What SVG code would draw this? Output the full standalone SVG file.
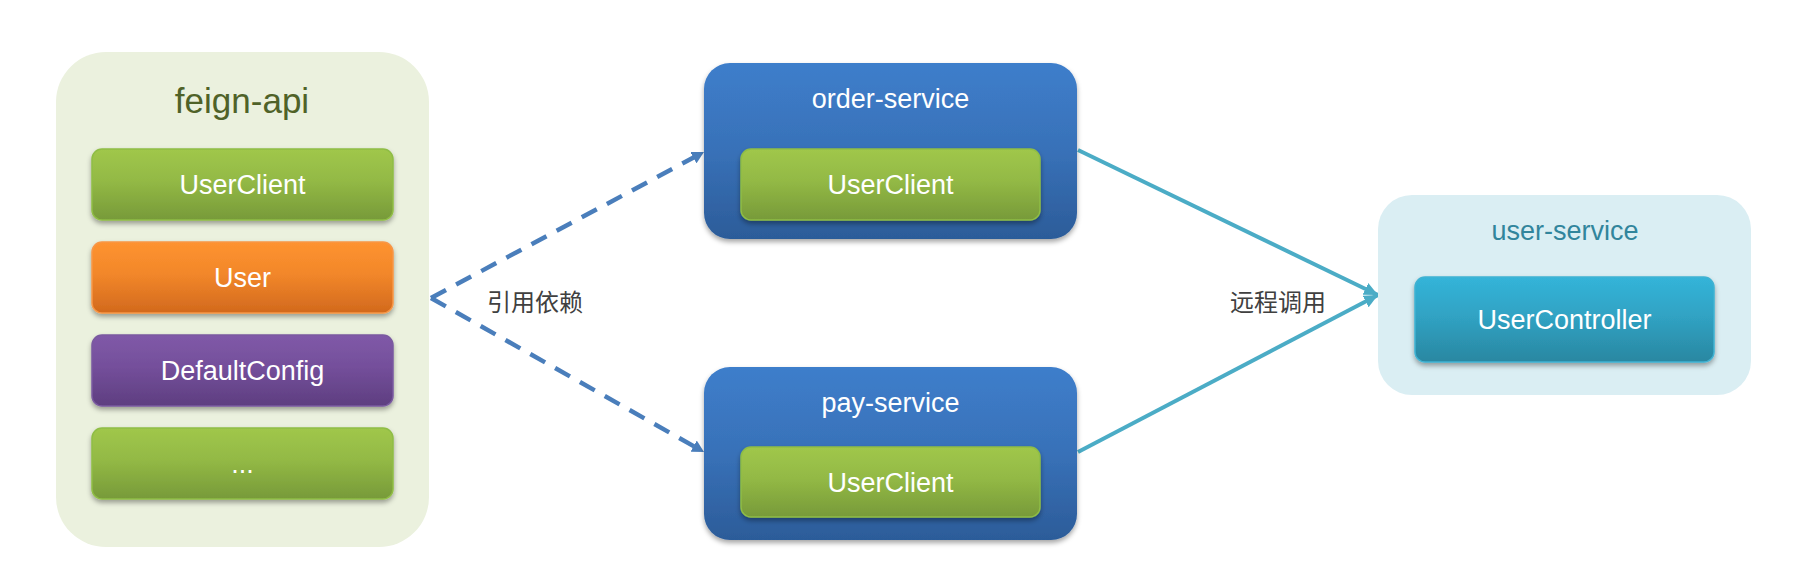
<svg xmlns="http://www.w3.org/2000/svg" width="1808" height="577" viewBox="0 0 1808 577">
  <style>
    .t { font-family: "Liberation Sans", Arial, sans-serif; font-size: 27px; fill: #ffffff; text-anchor: middle; }
    .cn { font-family: "Noto Sans CJK SC", "Noto Sans", sans-serif; font-size: 24px; fill: #404040; }
    .inner { filter: url(#sh); }
    .dash { fill: none; stroke: #4a7ebb; stroke-width: 4.5; stroke-dasharray: 17 11.5; marker-end: url(#aDash); }
  </style>
  <defs>
    <linearGradient id="gGreen" x1="0" y1="0" x2="0" y2="1">
      <stop offset="0" stop-color="#a0c74b"/>
      <stop offset="0.45" stop-color="#93b945"/>
      <stop offset="1" stop-color="#779a39"/>
    </linearGradient>
    <linearGradient id="gOrange" x1="0" y1="0" x2="0" y2="1">
      <stop offset="0" stop-color="#fe9330"/>
      <stop offset="0.45" stop-color="#f2872a"/>
      <stop offset="1" stop-color="#d2691d"/>
    </linearGradient>
    <linearGradient id="gPurple" x1="0" y1="0" x2="0" y2="1">
      <stop offset="0" stop-color="#8059a8"/>
      <stop offset="0.45" stop-color="#744f9b"/>
      <stop offset="1" stop-color="#5e3e80"/>
    </linearGradient>
    <linearGradient id="gBlue" x1="0" y1="0" x2="0" y2="1">
      <stop offset="0" stop-color="#3e7ecb"/>
      <stop offset="0.5" stop-color="#3871b8"/>
      <stop offset="1" stop-color="#2c5c99"/>
    </linearGradient>
    <linearGradient id="gTeal" x1="0" y1="0" x2="0" y2="1">
      <stop offset="0" stop-color="#34b4d9"/>
      <stop offset="0.45" stop-color="#30a3c4"/>
      <stop offset="1" stop-color="#2a87a1"/>
    </linearGradient>
    <filter id="sh" x="-10%" y="-20%" width="120%" height="150%">
      <feDropShadow dx="0" dy="3" stdDeviation="2.5" flood-color="#000" flood-opacity="0.35"/>
    </filter>
    <marker id="aDash" markerUnits="userSpaceOnUse" markerWidth="12" markerHeight="13" refX="6" refY="6.5" orient="auto" viewBox="0 0 12 13">
      <path d="M0,0 L12,6.5 L0,13 z" fill="#4a7ebb"/>
    </marker>
    <marker id="aTeal" markerUnits="userSpaceOnUse" markerWidth="14" markerHeight="13" refX="14" refY="6.5" orient="auto" viewBox="0 0 14 13">
      <path d="M0,0 L14,6.5 L0,13 z" fill="#4bacc6"/>
    </marker>
  </defs>

  <rect width="1808" height="577" fill="#ffffff"/>

  <g id="feign-api">
    <rect x="56" y="52" width="373" height="495" rx="50" fill="#ebf1de"/>
    <text x="242" y="113" class="t" style="font-size:35px;fill:#4f6228">feign-api</text>
    <g id="feign-userclient">
      <rect class="inner" x="92" y="149" width="301" height="71" rx="10" fill="url(#gGreen)" stroke="#8fbd45" stroke-width="1.5"/>
      <text x="242.5" y="194" class="t">UserClient</text>
    </g>
    <g id="feign-user">
      <rect class="inner" x="92" y="242" width="301" height="71" rx="10" fill="url(#gOrange)" stroke="#f79646" stroke-width="1.5"/>
      <text x="242.5" y="287" class="t">User</text>
    </g>
    <g id="feign-defaultconfig">
      <rect class="inner" x="92" y="335" width="301" height="71" rx="10" fill="url(#gPurple)" stroke="#7a5aa0" stroke-width="1.5"/>
      <text x="242.5" y="380" class="t">DefaultConfig</text>
    </g>
    <g id="feign-more">
      <rect class="inner" x="92" y="428" width="301" height="71" rx="10" fill="url(#gGreen)" stroke="#8fbd45" stroke-width="1.5"/>
      <text x="242.5" y="473" class="t">...</text>
    </g>
  </g>

  <g id="connectors">
    <path class="dash" d="M431,298 L698.7,154.8"/>
    <path class="dash" d="M431,298 L698.8,449.1"/>
    <path d="M1078,150 L1378,295" fill="none" stroke="#4bacc6" stroke-width="4" marker-end="url(#aTeal)"/>
    <path d="M1078,452 L1378,295" fill="none" stroke="#4bacc6" stroke-width="4" marker-end="url(#aTeal)"/>
    <text x="487" y="311" class="cn">引用依赖</text>
    <text x="1230" y="311" class="cn">远程调用</text>
  </g>

  <g id="order-service">
    <rect x="704" y="63" width="373" height="176" rx="26" fill="url(#gBlue)" filter="url(#sh)"/>
    <text x="890.5" y="108" class="t">order-service</text>
    <g id="order-userclient">
      <rect class="inner" x="741" y="149" width="299" height="71" rx="10" fill="url(#gGreen)" stroke="#8fbd45" stroke-width="1.5"/>
      <text x="890.5" y="194" class="t">UserClient</text>
    </g>
  </g>

  <g id="pay-service">
    <rect x="704" y="367" width="373" height="173" rx="26" fill="url(#gBlue)" filter="url(#sh)"/>
    <text x="890.5" y="412" class="t">pay-service</text>
    <g id="pay-userclient">
      <rect class="inner" x="741" y="447" width="299" height="70" rx="10" fill="url(#gGreen)" stroke="#8fbd45" stroke-width="1.5"/>
      <text x="890.5" y="492" class="t">UserClient</text>
    </g>
  </g>

  <g id="user-service">
    <rect x="1378" y="195" width="373" height="200" rx="34" fill="#daeef3"/>
    <text x="1565" y="240" class="t" style="fill:#31859c">user-service</text>
    <g id="user-controller">
      <rect class="inner" x="1415" y="277" width="299" height="85" rx="10" fill="url(#gTeal)" stroke="#3fb2d2" stroke-width="1.5"/>
      <text x="1564.5" y="329" class="t">UserController</text>
    </g>
  </g>
</svg>
